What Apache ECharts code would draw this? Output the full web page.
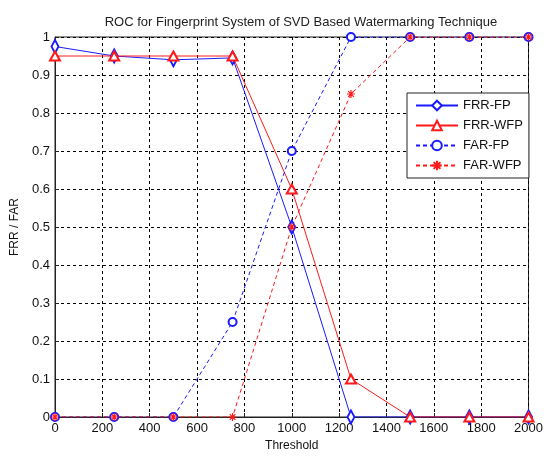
<!DOCTYPE html>
<html><head><meta charset="utf-8">
<script src="https://cdn.jsdelivr.net/npm/echarts@6/dist/echarts.min.js"></script>
<style>html,body{margin:0;padding:0;background:#fff;overflow:hidden}#c{width:100vw;height:100vh}</style>
</head><body><div id="c"></div>
<script>
var thresholds = [0, 250, 500, 750, 1000, 1250, 1500, 1750, 2000];
var frrFP  = [0.975, 0.95, 0.94, 0.945, 0.5, 0, 0, 0, 0];
var frrWFP = [0.95, 0.95, 0.95, 0.95, 0.6, 0.1, 0, 0, 0];
var farFP  = [0, 0, 0, 0.25, 0.7, 1, 1, 1, 1];
var farWFP = [0, 0, 0, 0, 0.5, 0.85, 1, 1, 1];
var seriesNames = ['FRR-FP', 'FRR-WFP', 'FAR-FP', 'FAR-WFP'];

function pts(arr){ return thresholds.map(function(t,i){ return [t, arr[i]]; }); }
var BLUE = '#1a1aff', RED = '#ff1a1a';
var star = 'path://M0,-10L0,10M-10,0L10,0M-7,-7L7,7M-7,7L7,-7';

var chart = echarts.init(document.getElementById('c'));
chart.setOption({
  animation: false,
  backgroundColor: '#fff',
  textStyle: { fontFamily: 'Liberation Sans, Arial, sans-serif' },
  title: {
    text: 'ROC for Fingerprint System of SVD Based Watermarking Technique',
    left: 296, top: 11, textAlign: 'center',
    textStyle: { fontSize: 13, fontWeight: 'normal', color: '#222' }
  },
  grid: { left: 55, right: 11, top: 37, bottom: 33, show: true, borderColor: '#222', borderWidth: 1, containLabel: false },
  legend: {
    orient: 'vertical', left: 407, top: 93, width: 120,
    backgroundColor: '#fff', borderColor: '#222', borderWidth: 1,
    padding: [6, 6, 6, 8], itemGap: 7, itemWidth: 42, itemHeight: 12,
    textStyle: { fontSize: 13, color: '#111' },
    data: seriesNames
  },
  xAxis: {
    type: 'value', min: 0, max: 2000, interval: 200,
    name: 'Threshold', nameLocation: 'middle', nameGap: 23,
    nameTextStyle: { fontSize: 12, color: '#111' },
    axisLine: { lineStyle: { color: '#222' } },
    axisTick: { inside: true, length: 4, lineStyle: { color: '#222' } },
    axisLabel: { fontSize: 13, color: '#111', margin: 5,
      formatter: function(v){ return String(v); } },
    splitLine: { show: true, lineStyle: { color: '#000', type: [3, 3], width: 1 } }
  },
  yAxis: {
    type: 'value', min: 0, max: 1, interval: 0.1,
    name: 'FRR / FAR', nameLocation: 'middle', nameGap: 30,
    nameTextStyle: { fontSize: 12, color: '#111' },
    axisLine: { lineStyle: { color: '#222' } },
    axisTick: { inside: true, length: 4, lineStyle: { color: '#222' } },
    axisLabel: { fontSize: 13, color: '#111', margin: 5,
      formatter: function(v){ return String(Math.round(v*10)/10); } },
    splitLine: { show: true, lineStyle: { color: '#000', type: [3, 3], width: 1 } }
  },
  series: [
    { name: seriesNames[0], type: 'line', data: pts(frrFP), symbol: 'emptyDiamond', symbolSize: [7, 13],
      lineStyle: { color: BLUE, width: 1 }, itemStyle: { color: BLUE, borderColor: BLUE, borderWidth: 1 } },
    { name: seriesNames[1], type: 'line', data: pts(frrWFP), symbol: 'emptyTriangle', symbolSize: [10, 9],
      lineStyle: { color: RED, width: 1 }, itemStyle: { color: RED, borderColor: RED, borderWidth: 1 } },
    { name: seriesNames[2], type: 'line', data: pts(farFP), symbol: 'emptyCircle', symbolSize: 8,
      lineStyle: { color: BLUE, width: 1, type: [4, 3] }, itemStyle: { color: BLUE, borderColor: BLUE, borderWidth: 1 } },
    { name: seriesNames[3], type: 'line', data: pts(farWFP), symbol: star, symbolSize: 8,
      lineStyle: { color: RED, width: 1, type: [4, 3] }, itemStyle: { color: RED, borderColor: RED, borderWidth: 1.2 } }
  ]
});
</script></body></html>
